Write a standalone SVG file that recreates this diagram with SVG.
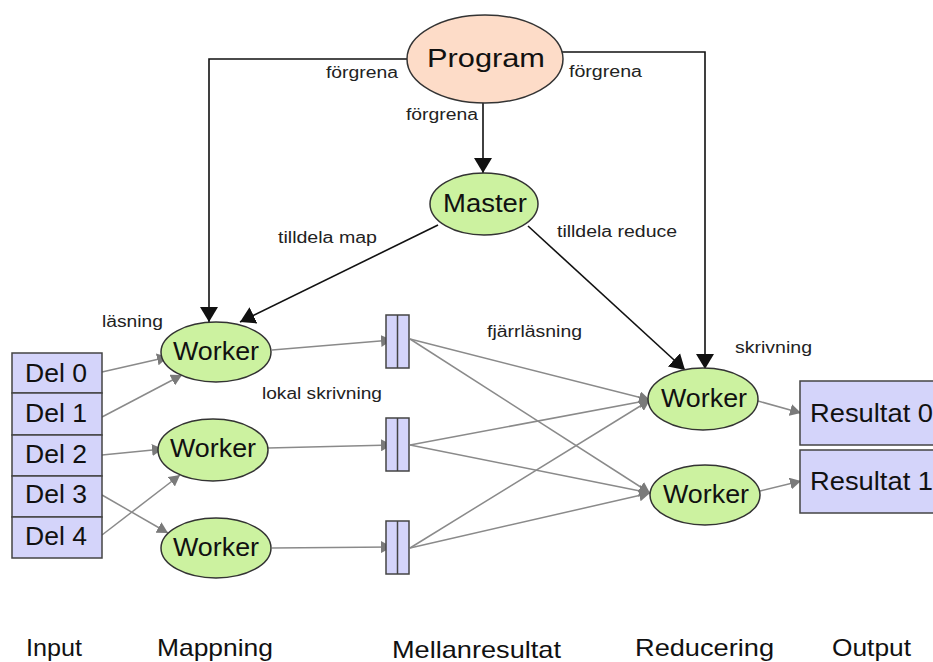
<svg xmlns="http://www.w3.org/2000/svg" width="933" height="662" viewBox="0 0 933 662">
<style>
text{font-family:"Liberation Sans",Arial,sans-serif;fill:#111;}
.big{font-size:25px;}
.lbl{font-size:16px;fill:#222;}
.cap{font-size:24px;}
.green{fill:#ccf2a0;stroke:#333;stroke-width:1.5;}
.box{fill:#d4d4fa;stroke:#444;stroke-width:1.5;}
.blk{fill:none;stroke:#111;stroke-width:1.6;}
.gry{fill:none;stroke:#8a8a8a;stroke-width:1.5;}
</style>
<defs>
<marker id="ab" markerUnits="userSpaceOnUse" markerWidth="18" markerHeight="20" refX="15" refY="10" orient="auto">
<path d="M0,1 L15,10 L0,19 Z" fill="#111"/>
</marker>
<marker id="ag" markerUnits="userSpaceOnUse" markerWidth="12" markerHeight="12" refX="11" refY="6" orient="auto">
<path d="M0,0 L11,6 L0,12 Z" fill="#7a7a7a"/>
</marker>
</defs>
<rect width="933" height="662" fill="#fff"/>

<g id="connectors">
<path class="blk" d="M483,103 V173" marker-end="url(#ab)"/>
<path class="blk" d="M408,59 H209 V322" marker-end="url(#ab)"/>
<path class="blk" d="M562,52 H705 V369" marker-end="url(#ab)"/>
<path class="blk" d="M438,225 L240,322" marker-end="url(#ab)"/>
<path class="blk" d="M528,226 L685,370" marker-end="url(#ab)"/>

<path class="gry" d="M102,372 L168,357" marker-end="url(#ag)"/>
<path class="gry" d="M102,417 L182,375" marker-end="url(#ag)"/>
<path class="gry" d="M102,455 L163,449" marker-end="url(#ag)"/>
<path class="gry" d="M102,495 L168,533" marker-end="url(#ag)"/>
<path class="gry" d="M102,535 L180,475" marker-end="url(#ag)"/>

<path class="gry" d="M272,350 L392,340" marker-end="url(#ag)"/>
<path class="gry" d="M268,448 L392,445" marker-end="url(#ag)"/>
<path class="gry" d="M272,548 L392,547" marker-end="url(#ag)"/>

<path class="gry" d="M410,339 L650,400" marker-end="url(#ag)"/>
<path class="gry" d="M410,339 L650,493" marker-end="url(#ag)"/>
<path class="gry" d="M410,445 L650,400" marker-end="url(#ag)"/>
<path class="gry" d="M410,445 L650,493" marker-end="url(#ag)"/>
<path class="gry" d="M410,548 L650,400" marker-end="url(#ag)"/>
<path class="gry" d="M410,548 L650,493" marker-end="url(#ag)"/>

<path class="gry" d="M758,401 L801,413" marker-end="url(#ag)"/>
<path class="gry" d="M760,491 L801,481" marker-end="url(#ag)"/>
</g>

<g id="edge-labels">
<text class="lbl" x="326" y="78" textLength="72" lengthAdjust="spacingAndGlyphs">förgrena</text>
<text class="lbl" x="569" y="77" textLength="73" lengthAdjust="spacingAndGlyphs">förgrena</text>
<text class="lbl" x="406" y="120" textLength="72" lengthAdjust="spacingAndGlyphs">förgrena</text>
<text class="lbl" x="278" y="243" textLength="99" lengthAdjust="spacingAndGlyphs">tilldela map</text>
<text class="lbl" x="557" y="237" textLength="120" lengthAdjust="spacingAndGlyphs">tilldela reduce</text>
<text class="lbl" x="102" y="327" textLength="61" lengthAdjust="spacingAndGlyphs">läsning</text>
<text class="lbl" x="262" y="399" textLength="120" lengthAdjust="spacingAndGlyphs">lokal skrivning</text>
<text class="lbl" x="487" y="337" textLength="95" lengthAdjust="spacingAndGlyphs">fjärrläsning</text>
<text class="lbl" x="735" y="353" textLength="77" lengthAdjust="spacingAndGlyphs">skrivning</text>
</g>

<g id="program">
<ellipse cx="485" cy="59" rx="78" ry="44" fill="#fddcc8" stroke="#333" stroke-width="1.5"/>
<text class="big" x="486" y="67" text-anchor="middle" font-size="27" textLength="118" lengthAdjust="spacingAndGlyphs">Program</text>
</g>
<g id="master">
<ellipse class="green" cx="484" cy="204" rx="54" ry="31"/>
<text class="big" x="485" y="212" text-anchor="middle" textLength="84" lengthAdjust="spacingAndGlyphs">Master</text>
</g>

<g id="del0"><rect class="box" x="12" y="353" width="90" height="40"/><text class="big" x="56" y="382" text-anchor="middle" textLength="62" lengthAdjust="spacingAndGlyphs">Del 0</text></g>
<g id="del1"><rect class="box" x="12" y="393" width="90" height="42"/><text class="big" x="56" y="422" text-anchor="middle" textLength="62" lengthAdjust="spacingAndGlyphs">Del 1</text></g>
<g id="del2"><rect class="box" x="12" y="435" width="90" height="41"/><text class="big" x="56" y="463" text-anchor="middle" textLength="62" lengthAdjust="spacingAndGlyphs">Del 2</text></g>
<g id="del3"><rect class="box" x="12" y="476" width="90" height="41"/><text class="big" x="56" y="503" text-anchor="middle" textLength="62" lengthAdjust="spacingAndGlyphs">Del 3</text></g>
<g id="del4"><rect class="box" x="12" y="517" width="90" height="41"/><text class="big" x="56" y="545" text-anchor="middle" textLength="62" lengthAdjust="spacingAndGlyphs">Del 4</text></g>

<g id="mworker1"><ellipse class="green" cx="216" cy="352" rx="55" ry="30"/><text class="big" x="216" y="360" text-anchor="middle" textLength="86" lengthAdjust="spacingAndGlyphs">Worker</text></g>
<g id="mworker2"><ellipse class="green" cx="213" cy="450" rx="55" ry="31"/><text class="big" x="213" y="457" text-anchor="middle" textLength="86" lengthAdjust="spacingAndGlyphs">Worker</text></g>
<g id="mworker3"><ellipse class="green" cx="216" cy="548" rx="55" ry="30"/><text class="big" x="216" y="556" text-anchor="middle" textLength="86" lengthAdjust="spacingAndGlyphs">Worker</text></g>

<g id="file1"><rect class="box" x="386" y="315" width="23" height="53"/><line x1="397.5" y1="315" x2="397.5" y2="368" stroke="#444" stroke-width="1.5"/></g>
<g id="file2"><rect class="box" x="386" y="418" width="23" height="53"/><line x1="397.5" y1="418" x2="397.5" y2="471" stroke="#444" stroke-width="1.5"/></g>
<g id="file3"><rect class="box" x="386" y="521" width="23" height="53"/><line x1="397.5" y1="521" x2="397.5" y2="574" stroke="#444" stroke-width="1.5"/></g>

<g id="rworker1"><ellipse class="green" cx="703" cy="399" rx="55" ry="31"/><text class="big" x="704" y="407" text-anchor="middle" textLength="86" lengthAdjust="spacingAndGlyphs">Worker</text></g>
<g id="rworker2"><ellipse class="green" cx="705" cy="495" rx="55" ry="30"/><text class="big" x="706" y="503" text-anchor="middle" textLength="86" lengthAdjust="spacingAndGlyphs">Worker</text></g>

<g id="result0"><rect class="box" x="800" y="381" width="145" height="64"/><text class="big" x="810" y="422" textLength="123" lengthAdjust="spacingAndGlyphs">Resultat 0</text></g>
<g id="result1"><rect class="box" x="800" y="450" width="145" height="63"/><text class="big" x="810" y="490" textLength="123" lengthAdjust="spacingAndGlyphs">Resultat 1</text></g>

<g id="stage-labels">
<text class="cap" x="26" y="656" textLength="56" lengthAdjust="spacingAndGlyphs">Input</text>
<text class="cap" x="157" y="656" textLength="116" lengthAdjust="spacingAndGlyphs">Mappning</text>
<text class="cap" x="392" y="658" textLength="169" lengthAdjust="spacingAndGlyphs">Mellanresultat</text>
<text class="cap" x="635" y="656" textLength="139" lengthAdjust="spacingAndGlyphs">Reducering</text>
<text class="cap" x="832" y="656" textLength="79" lengthAdjust="spacingAndGlyphs">Output</text>
</g>
</svg>
